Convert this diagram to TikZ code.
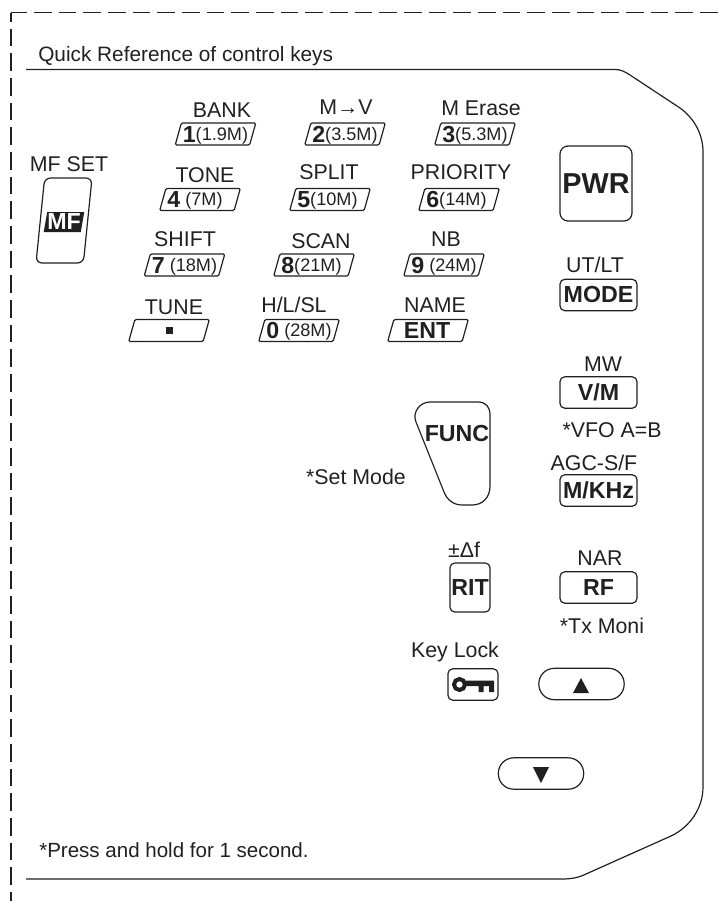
\documentclass[tikz,border=0pt]{standalone}
\usepackage{fontspec}
\setmainfont{Liberation Sans}
\usepackage{xcolor}
\usetikzlibrary{shapes.geometric}
\definecolor{keyink}{RGB}{35,31,32}
\newcommand{\lblfont}{\fontsize{16}{18}\selectfont}
\newcommand{\capfont}{\bfseries\fontsize{17.4}{20}\selectfont}
\newcommand{\bandfont}{\mdseries\fontsize{13.6}{16}\selectfont}
\tikzset{
  keylabel/.style={inner sep=0pt, text=keyink, font=\lblfont, text height=8.2pt, text depth=0pt},
  slantkey/.style={draw=keyink, line width=0.9pt, trapezium, trapezium left angle=75, trapezium right angle=105,
    trapezium stretches=true, minimum width=60.75pt, minimum height=16.5pt, inner sep=0pt, rounded corners=1pt,
    text=keyink, text height=14.6pt, text depth=1.9pt},
  rectkey/.style={draw=keyink, line width=0.9pt, rectangle, rounded corners=3.5pt, inner sep=0pt,
    minimum width=57.75pt, minimum height=23.5pt, text=keyink, font=\capfont},
  pillkey/.style={draw=keyink, line width=0.9pt, rectangle, rounded corners=11.5pt, inner sep=0pt,
    minimum width=64pt, minimum height=23.5pt},
}
\begin{document}
\begin{tikzpicture}[x=0.75pt, y=-0.75pt]
  \useasboundingbox (0,0) rectangle (723,901);

  % Cut line
  \draw[keyink, line width=1.1pt, dash pattern=on 13.1pt off 5.4pt, dash phase=1.2pt] (11,12.5) -- (723,12.5);
  \draw[keyink, line width=1.1pt, dash pattern=on 13.1pt off 5.4pt, dash phase=6.3pt] (11,12.5) -- (11,901);

  % Panel outline
  \draw[keyink, line width=0.9pt] (26,69.5) -- (615,69.5) .. controls (620,69.5) and (624,71) .. (630,75)
    -- (680,108) .. controls (694,118) and (703,134) .. (703,152) -- (703,787)
    .. controls (703,808) and (690,827) .. (671,836) -- (586,874)
    .. controls (578,878) and (570,879) .. (562,879) -- (26,879);

  \node[keylabel, anchor=west, font=\fontsize{15.6}{18}\selectfont] (title) at (38,56) {Quick Reference of control keys};
  \node[keylabel, anchor=west, font=\fontsize{15.4}{18}\selectfont] (note) at (39,852) {*Press and hold for 1 second.};

  % Number keys
  \foreach \n/\x/\y/\dig/\band in {1/215.5/134/1/(1.9M), 2/345/134/2/(3.5M), 3/475/134/3/(5.3M),
      4/200/199.5/4/\ (7M), 5/330/199.5/5/(10M), 6/459/199.5/6/(14M),
      7/184.5/265/7/\ (18M), 8/314/265/8/(21M), 9/444/265/9/\ (24M), 0/299/330.5/0/\ (28M)}{
    \node[slantkey] (key\n) at (\x,\y)
      {\makebox[49pt][l]{\capfont\dig\raisebox{1.6pt}{\bandfont\band}}};
  }
  \node[slantkey] (keytune) at (169,330.5) {\makebox[49pt]{}};
  \fill[keyink] (keytune.center) ++(-3.5,-3.5) rectangle ++(7,7);
  \node[slantkey, font=\capfont] (keyent) at (428,330.5) {\makebox[49pt]{\hspace*{-1.5pt}ENT}};

  % Labels over the keys
  \foreach \n/\x/\y/\lab in {bank/222/112/BANK, mv/346/109/M→V, erase/481/110/M Erase,
      tone/205/177/TONE, split/329/174/SPLIT, prio/461/174/PRIORITY,
      shift/185/241/SHIFT, scan/321/243/SCAN, nb/446/241/NB,
      tune/174/309/TUNE, hl/294/307/{H/L/SL}, name/435/307/NAME,
      mfset/69/166/MF SET, utlt/595/267/{UT/LT}, mw/603/366/MW, vfo/612/432/*VFO A=B,
      agc/594/465/{AGC-S/F}, setmode/356/479/*Set Mode, rit/464/552/±Δf, nar/600/560/NAR,
      moni/602/628/*Tx Moni, lock/455/652/Key Lock}{
    \node[keylabel] (lab\n) at (\x,\y) {\lab};
  }

  % MF key
  \node[draw=keyink, line width=0.9pt, trapezium, trapezium left angle=77.5, trapezium right angle=102.5,
    trapezium stretches=true, minimum width=42pt, minimum height=63.75pt, rounded corners=4.5pt] (keymfout) at (64,220.5) {};
  \node[fill=keyink, trapezium, trapezium left angle=77.5, trapezium right angle=102.5, trapezium stretches=true,
    minimum width=28.5pt, minimum height=15pt, inner sep=0pt, text=white, font=\capfont] (keymf) at (64,222) {MF};

  % Right column
  \node[rectkey, minimum width=54pt, minimum height=56.25pt, rounded corners=6pt, font=\bfseries\fontsize{21.6}{24}\selectfont] (keypwr) at (596,183.5) {PWR};
  \node[rectkey] (keymode) at (598.5,295) {MODE};
  \node[rectkey] (keyvm) at (598.5,392.5) {V/M};
  \node[rectkey] (keykhz) at (598.5,490.5) {M/KHz};
  \node[rectkey] (keyrf) at (598.5,587.5) {RF};
  \node[rectkey, minimum width=30pt, minimum height=36.75pt] (keyrit) at (470,587.5) {RIT};

  % FUNC key
  \draw[keyink, line width=0.9pt] (430,402) -- (478,402) .. controls (486,402) and (490,407) .. (490,415)
    -- (490,486) .. controls (490,498) and (482,505) .. (472,505) -- (462,505)
    .. controls (454,505) and (447,500) .. (444,492) -- (416,422) .. controls (412,412) and (420,402) .. (430,402);
  \node[inner sep=0pt, text=keyink, font=\capfont] (keyfunc) at (457,434) {FUNC};

  % Key lock
  \node[rectkey, minimum width=37.5pt] (keylock) at (473,684.5) {};
  \draw[keyink, line width=3pt] (459.5,684.5) circle (5.5);
  \fill[keyink] (466,680.5) rectangle (494,686) (478.5,680.5) rectangle (483.5,692) (489,680.5) rectangle (494,692);

  % Arrow keys
  \node[pillkey] (keyup) at (581.5,684) {};
  \fill[keyink] (581,678) -- (589,693) -- (573,693) -- cycle;
  \node[pillkey] (keydown) at (541,773.5) {};
  \fill[keyink] (541,783) -- (533,767) -- (549,767) -- cycle;
\end{tikzpicture}
\end{document}
